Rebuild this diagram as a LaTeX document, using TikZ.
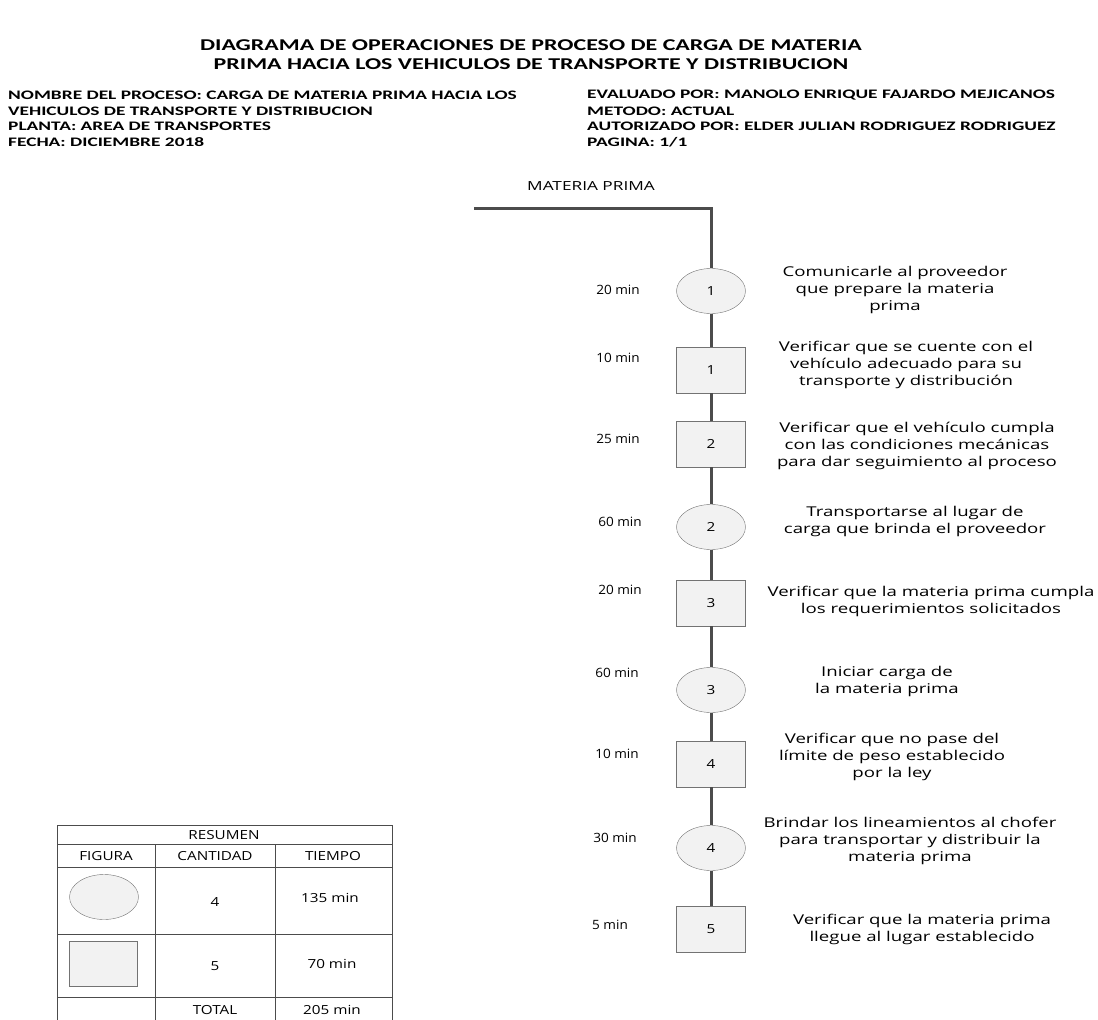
\documentclass[tikz,border=0pt]{standalone}
\usepackage{fontspec}
\setmainfont{Open Sans}[FakeStretch=1.22]
\newfontfamily\descfont{Open Sans}[FakeStretch=1.38]
\newfontfamily\timefont{Open Sans}[FakeStretch=1.06]
\newfontfamily\headfont{Carlito}[FakeStretch=1.45]
\newfontfamily\infofont{Carlito}[FakeStretch=1.49]
\usepackage{tikz}
\usetikzlibrary{positioning}
\usetikzlibrary{shapes.geometric}
\definecolor{lineColor}{rgb}{0.30,0.30,0.30}
\definecolor{borderColor}{rgb}{0.45,0.45,0.45}
\definecolor{fillColor}{rgb}{0.95,0.95,0.95}
\newcommand{\headsize}{\fontsize{16.5}{19}\selectfont}
\newcommand{\infosize}{\fontsize{13}{15}\selectfont}
\newcommand{\bodysize}{\fontsize{12.5}{17}\selectfont}
\newcommand{\descsize}{\fontsize{13.5}{17}\selectfont}
\newcommand{\timesize}{\fontsize{12.8}{14}\selectfont}

\begin{document}
\begin{tikzpicture}[x=1pt,y=-1pt]

          \tikzstyle{opNode} = [ellipse, draw=borderColor, fill=fillColor, minimum width=69pt, minimum height=45pt, inner sep=0pt, font=\bodysize];
          \tikzstyle{inspNode} = [rectangle, draw=borderColor, fill=fillColor, minimum width=69pt, minimum height=46pt, inner sep=0pt, font=\bodysize];
          \tikzstyle{timeNode} = [font=\timefont\timesize, inner sep=0pt];
          \tikzstyle{descNode} = [font=\descfont\descsize, align=center, inner sep=0pt];
          \tikzstyle{infoNode} = [anchor=west, font=\infofont\bfseries\infosize, inner sep=0pt];
          \tikzstyle{cellNode} = [font=\bodysize, inner sep=0pt];

          \tikzstyle{flowEdge} = [line width=3pt, lineColor];
          \tikzstyle{tableEdge} = [line width=1pt, lineColor];

          \useasboundingbox (0,0) rectangle (1098,1020);

          % encabezado
          \node[font=\headfont\bfseries\headsize, inner sep=0pt] (titleA) at (531,45) {DIAGRAMA DE OPERACIONES DE PROCESO DE CARGA DE MATERIA};
          \node[font=\headfont\bfseries\headsize, inner sep=0pt] (titleB) at (531,64) {PRIMA HACIA LOS VEHICULOS DE TRANSPORTE Y DISTRIBUCION};

          \node[infoNode] (nombre) at (8,95) {NOMBRE DEL PROCESO: CARGA DE MATERIA PRIMA HACIA LOS};
          \node[infoNode] (nombreB) at (8,111) {VEHICULOS DE TRANSPORTE Y DISTRIBUCION};
          \node[infoNode] (planta) at (8,126) {PLANTA: AREA DE TRANSPORTES};
          \node[infoNode] (fecha) at (8,142) {FECHA: DICIEMBRE 2018};
          \node[infoNode] (evaluado) at (587,95) {EVALUADO POR: MANOLO ENRIQUE FAJARDO MEJICANOS};
          \node[infoNode] (metodo) at (587,111) {METODO: ACTUAL};
          \node[infoNode] (autorizado) at (587,126) {AUTORIZADO POR: ELDER JULIAN RODRIGUEZ RODRIGUEZ};
          \node[infoNode] (pagina) at (587,142) {PAGINA: 1/1};

          % diagrama
          \node[font=\descfont\bodysize, inner sep=0pt] (materia) at (591,186) {MATERIA PRIMA};
          \coordinate (inicio) at (474,208);
          \coordinate (esquina) at (711,208);

          \node[opNode] (op1) at (711,291) {1};
          \node[inspNode] (insp1) at (711,370) {1};
          \node[inspNode] (insp2) at (711,444) {2};
          \node[opNode] (op2) at (711,527) {2};
          \node[inspNode] (insp3) at (711,603) {3};
          \node[opNode] (op3) at (711,690) {3};
          \node[inspNode] (insp4) at (711,764) {4};
          \node[opNode] (op4) at (711,848) {4};
          \node[inspNode] (insp5) at (711,929) {5};

          \node[timeNode] (t1) at (618,290) {20 min};
          \node[timeNode] (t2) at (618,358) {10 min};
          \node[timeNode] (t3) at (618,439) {25 min};
          \node[timeNode] (t4) at (620,522) {60 min};
          \node[timeNode] (t5) at (620,590) {20 min};
          \node[timeNode] (t6) at (617,673) {60 min};
          \node[timeNode] (t7) at (617,754) {10 min};
          \node[timeNode] (t8) at (615,838) {30 min};
          \node[timeNode] (t9) at (610,925) {5 min};

          \node[descNode] (d1) at (895,290) {Comunicarle al proveedor\\que prepare la materia\\prima};
          \node[descNode] (d2) at (906,365) {Verificar que se cuente con el\\vehículo adecuado para su\\transporte y distribución};
          \node[descNode] (d3) at (917,446) {Verificar que el vehículo cumpla\\con las condiciones mecánicas\\para dar seguimiento al proceso};
          \node[descNode] (d4) at (915,521) {Transportarse al lugar de\\carga que brinda el proveedor};
          \node[descNode] (d5) at (931,601) {Verificar que la materia prima cumpla\\los requerimientos solicitados};
          \node[descNode] (d6) at (887,681) {Iniciar carga de\\la materia prima};
          \node[descNode] (d7) at (892,757) {Verificar que no pase del\\límite de peso establecido\\por la ley};
          \node[descNode] (d8) at (910,841) {Brindar los lineamientos al chofer\\para transportar y distribuir la\\materia prima};
          \node[descNode] (d9) at (922,929) {Verificar que la materia prima\\llegue al lugar establecido};

          \draw[flowEdge] (inicio) -- (esquina) -- (op1);
          \draw[flowEdge] (op1) -- (insp1);
          \draw[flowEdge] (insp1) -- (insp2);
          \draw[flowEdge] (insp2) -- (op2);
          \draw[flowEdge] (op2) -- (insp3);
          \draw[flowEdge] (insp3) -- (op3);
          \draw[flowEdge] (op3) -- (insp4);
          \draw[flowEdge] (insp4) -- (op4);
          \draw[flowEdge] (op4) -- (insp5);

          % resumen
          \draw[tableEdge] (57,1020) -- (57,825) -- (392,825) -- (392,1020);
          \draw[tableEdge] (57,844) -- (392,844);
          \draw[tableEdge] (57,867) -- (392,867);
          \draw[tableEdge] (57,934) -- (392,934);
          \draw[tableEdge] (57,997) -- (392,997);
          \draw[tableEdge] (155,844) -- (155,1020);
          \draw[tableEdge] (275,844) -- (275,1020);

          \node[cellNode] (resumen) at (224,835) {RESUMEN};
          \node[cellNode] (figura) at (106,856) {FIGURA};
          \node[cellNode] (cantidad) at (215,856) {CANTIDAD};
          \node[cellNode] (tiempo) at (333,856) {TIEMPO};
          \node[opNode] (opRes) at (104,897) {};
          \node[cellNode] (cantOp) at (215,902) {4};
          \node[cellNode] (timeOp) at (330,898) {135 min};
          \node[inspNode, minimum width=68pt, minimum height=45pt] (inspRes) at (103,964) {};
          \node[cellNode] (cantInsp) at (215,966) {5};
          \node[cellNode] (timeInsp) at (332,964) {70 min};
          \node[cellNode] (total) at (215,1010) {TOTAL};
          \node[cellNode] (timeTotal) at (332,1010) {205 min};
        \end{tikzpicture}
\end{document}
